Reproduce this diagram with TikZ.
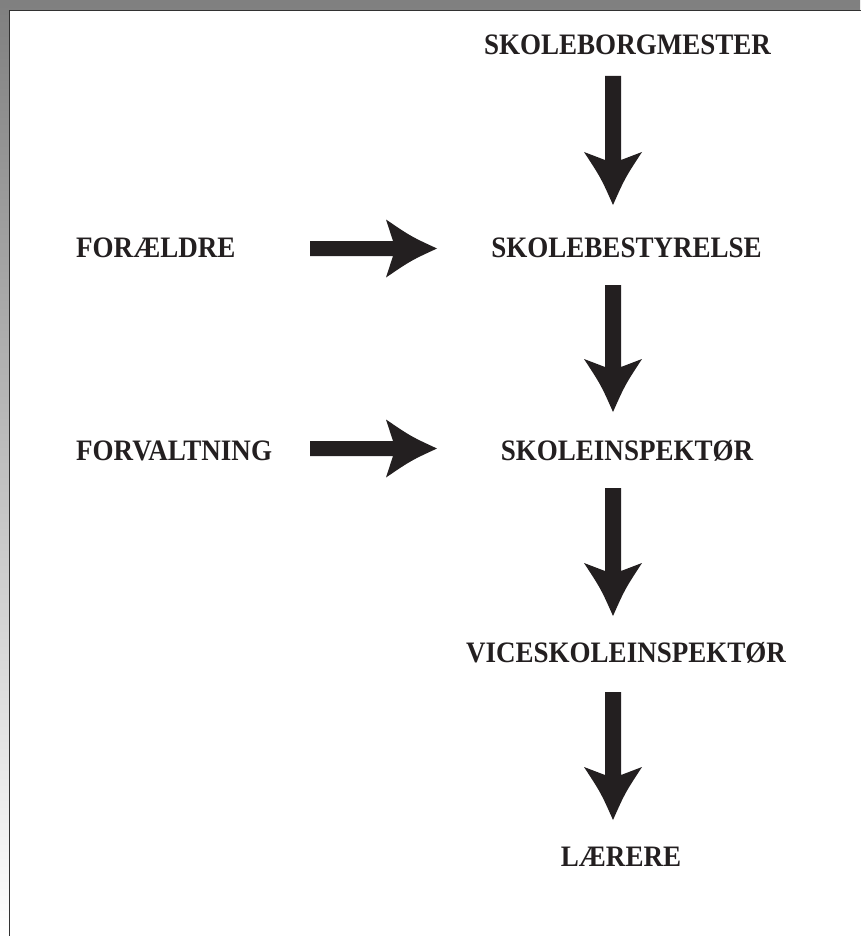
\documentclass[tikz,border=0pt]{standalone}
\usepackage{fontspec}
\setmainfont{Liberation Serif}
\usetikzlibrary{calc}
\definecolor{ink}{RGB}{35,31,32}
\definecolor{framec}{RGB}{50,50,50}
\definecolor{shade}{RGB}{246,246,246}
\tikzset{
  lbl/.style={font=\bfseries\fontsize{26.5}{30}\selectfont, text=ink, inner sep=0pt, anchor=base},
  lblw/.style={lbl, anchor=base west},
  % fat arrow pointing down (in picture), start above, target below
  fatdown/.style={fill=ink, to path={let \p1=(\tikztostart), \p2=(\tikztotarget) in
    (\x1-8pt,\y1) -- (\x1+8pt,\y1) -- (\x1+8pt,\y2+45pt) -- (\x1+29pt,\y2+53pt)
    .. controls (\x1+12pt,\y2+27pt) .. (\x1,\y2)
    .. controls (\x1-12pt,\y2+27pt) .. (\x1-29pt,\y2+53pt)
    -- (\x1-8pt,\y2+45pt) -- cycle}},
  fatright/.style={fill=ink, to path={let \p1=(\tikztostart), \p2=(\tikztotarget) in
    (\x1,\y1+7.5pt) -- (\x1,\y1-7.5pt) -- (\x2-44pt,\y1-7.5pt) -- (\x2-51pt,\y1-29pt)
    .. controls (\x2-26pt,\y1-12pt) .. (\x2,\y1)
    .. controls (\x2-26pt,\y1+12pt) .. (\x2-51pt,\y1+29pt)
    -- (\x2-44pt,\y1+7.5pt) -- cycle}},
}
\newcommand{\tall}[1]{\scalebox{1.02}[1.12]{#1}}
\begin{document}
\begin{tikzpicture}[x=1pt,y=-1pt]
  \useasboundingbox (0,0) rectangle (860,936);
  \fill[shade] (0,0) rectangle (860,936);
  \filldraw[fill=white, draw=framec, line width=1.6pt] (9.5,10.5) rectangle (875,950);

  % labels
  \node[lbl]  (bm)  at (627.5,55)  {\tall{SKOLEBORGMESTER}};
  \node[lbl]  (bs)  at (626.5,257) {\tall{SKOLEBESTYRELSE}};
  \node[lbl]  (si)  at (627,460)   {\tall{SKOLEINSPEKTØR}};
  \node[lbl]  (vsi) at (626,662)   {\tall{VICESKOLEINSPEKTØR}};
  \node[lbl]  (lr)  at (621,866)   {\tall{LÆRERE}};
  \node[lblw] (fo)  at (76,257)    {\tall{FORÆLDRE}};
  \node[lblw] (fv)  at (76,460)    {\tall{FORVALTNING}};

  % arrow end points
  \coordinate (a1s) at (613,76);  \coordinate (a1e) at (613,205);
  \coordinate (a2s) at (613,285); \coordinate (a2e) at (613,412);
  \coordinate (a3s) at (613,488); \coordinate (a3e) at (613,616);
  \coordinate (a4s) at (613,692); \coordinate (a4e) at (613,820);
  \coordinate (h1s) at (310,248.5); \coordinate (h1e) at (437,248.5);
  \coordinate (h2s) at (310,448.5); \coordinate (h2e) at (437,448.5);

  \path[fatdown] (a1s) to (a1e);
  \path[fatdown] (a2s) to (a2e);
  \path[fatdown] (a3s) to (a3e);
  \path[fatdown] (a4s) to (a4e);
  \path[fatright] (h1s) to (h1e);
  \path[fatright] (h2s) to (h2e);
\end{tikzpicture}
\end{document}
